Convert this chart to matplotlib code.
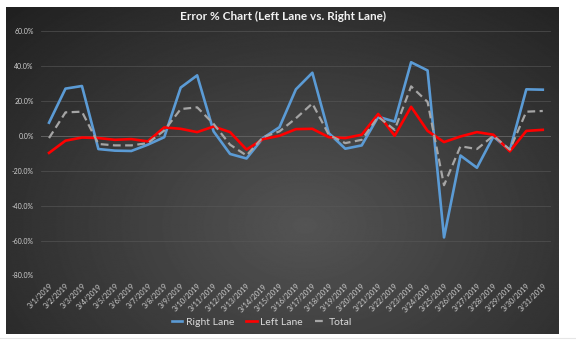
import numpy as np
import matplotlib
matplotlib.use("Agg")
import matplotlib.pyplot as plt
from matplotlib.ticker import FuncFormatter

# error % per day, March 2019
dates = ["3/%d/2019" % d for d in range(1, 32)]
right_lane = [7.5, 27.0, 28.5, -7.6, -8.5, -8.7, -5.1, -0.8, 27.6, 34.6,
              2.5, -10.4, -13.0, -1.3, 4.9, 26.6, 36.1, 1.5, -7.4, -5.5,
              10.9, 8.1, 42.1, 37.4, -58.2, -11.3, -18.3, -0.4, -8.3, 26.6,
              26.4]
left_lane = [-9.8, -2.8, -1.0, -1.3, -2.3, -1.9, -3.2, 4.8, 4.0, 2.1,
             5.3, 2.1, -7.9, -1.9, 0.0, 3.8, 4.0, -0.8, -1.3, 0.6,
             12.5, 0.0, 16.6, 2.8, -3.6, -0.4, 2.1, 0.6, -8.9, 2.8,
             3.4]
total = [-1.3, 13.4, 13.8, -4.7, -5.5, -5.5, -4.2, 3.0, 15.3, 16.3,
         6.8, -5.1, -11.3, -0.8, 2.5, 10.0, 18.5, 0.6, -4.2, -2.3,
         10.9, 3.4, 28.3, 19.4, -28.3, -6.0, -7.6, 0.0, -7.9, 13.8,
         14.2]

W, H = 576, 341
fig = plt.figure(figsize=(W / 100, H / 100), dpi=100)
plt.rcParams['font.family'] = ['Lato', 'DejaVu Sans']

# background: white page with dark radial gradient chart area
bg = fig.add_axes([0, 0, 1, 1])
bg.set_xlim(0, W)
bg.set_ylim(H, 0)
bg.axis('off')
yy, xx = np.mgrid[0:330, 0:555]
r = np.sqrt(((xx - 300) / 420.0) ** 2 + ((yy - 220) / 300.0) ** 2)
shade = np.clip(0.33 - 0.2 * r, 0.12, 0.34)
bg.imshow(shade, cmap='gray', vmin=0, vmax=1, extent=[6, 559, 334, 7],
          aspect='auto', interpolation='bilinear')
bg.axhline(338, xmin=0, xmax=1, color='#e6e6e6', lw=0.8)

ax = fig.add_axes([40.8 / W, 65.5 / H, (551 - 40.8) / W, (310 - 65.5) / H])
ax.patch.set_alpha(0)
x = np.arange(len(dates))

ax.plot(x, right_lane, color='#5b9bd5', lw=1.9, label='Right Lane', zorder=3)
ax.plot(x, left_lane, color='#ff0000', lw=1.9, label='Left Lane', zorder=4)
ax.plot(x, total, color='#a5a5a5', lw=1.6, ls=(0, (3.5, 2)), label='Total', zorder=5)

ax.set_xlim(-0.5, len(dates) - 0.5)
ax.set_ylim(-80, 60)
ax.set_yticks(np.arange(-80, 61, 20))
ax.yaxis.set_major_formatter(FuncFormatter(lambda v, p: "%.1f%%" % v))
ax.grid(axis='y', color='#585858', lw=0.6, alpha=0.7)
ax.axhline(0, color='#6a6a6a', lw=0.7, zorder=1)
for s in ax.spines.values():
    s.set_visible(False)

ax.set_xticks(x)
ax.set_xticklabels(dates, rotation=45, ha='right', va='top',
                   rotation_mode='anchor', fontsize=5.3, color='#d0d0d0')
ax.tick_params(axis='x', length=0, pad=5)
ax.tick_params(axis='y', length=0, pad=5, labelsize=5, labelcolor='#d0d0d0')

fig.text(283 / W, 1 - 16 / H, "Error % Chart (Left Lane vs. Right Lane)",
         ha='center', va='center', fontsize=8.5, fontweight='bold', color='#f2f2f2')

leg = fig.legend(loc='center', bbox_to_anchor=(262 / W, 1 - 322 / H), ncol=3,
                 frameon=False, fontsize=7.5, handlelength=1.0, handletextpad=0.3,
                 columnspacing=1.2)
for t in leg.get_texts():
    t.set_color('#d9d9d9')

fig.savefig("out.png", dpi=100)
